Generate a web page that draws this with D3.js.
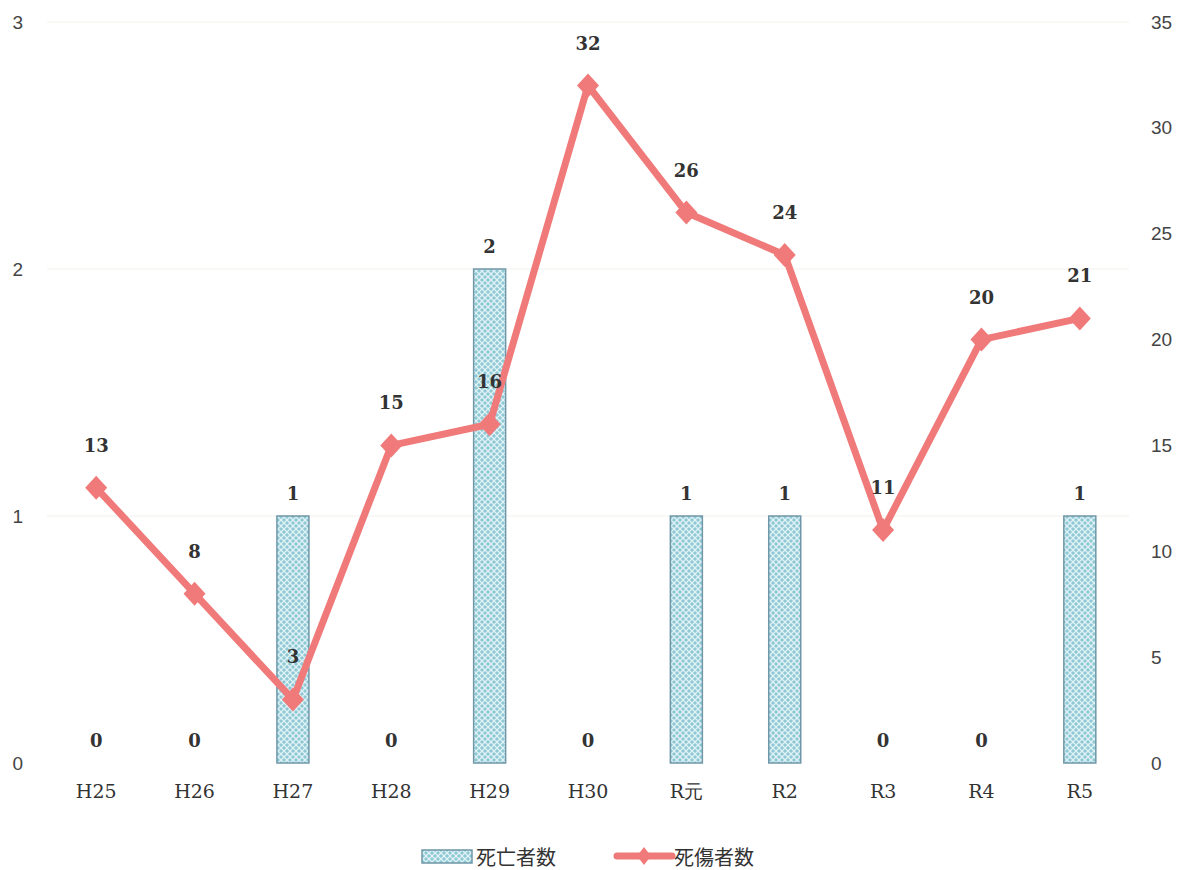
<!DOCTYPE html>
<html>
<head>
<meta charset="utf-8">
<script src="https://cdn.jsdelivr.net/npm/d3@7"></script>
<style>
  body { margin: 0; background: #fff; }
  .tick text { font-family: "Liberation Sans", Arial, sans-serif; font-size: 19px; fill: #444; }
  .axis--x .tick text { font-family: "DejaVu Serif", "Liberation Serif", serif; font-size: 19px; fill: #333; }
  .label { font-family: "DejaVu Serif", "Liberation Serif", serif; font-size: 18px; font-weight: bold; fill: #333; text-anchor: middle; }
  .legend text { font-family: "Noto Sans CJK JP", sans-serif; font-size: 20px; fill: #333; }
</style>
</head>
<body>
<svg id="chart" width="1186" height="870"></svg>
<script>
var categories = ["H25", "H26", "H27", "H28", "H29", "H30", "R元", "R2", "R3", "R4", "R5"];
var deaths = [0, 0, 1, 0, 2, 0, 1, 1, 0, 0, 1];        // 死亡者数 (left axis)
var casualties = [13, 8, 3, 15, 16, 32, 26, 24, 11, 20, 21]; // 死傷者数 (right axis)
var leftTicks = [0, 1, 2, 3];
var rightTicks = [0, 5, 10, 15, 20, 25, 30, 35];

var svg = d3.select("#chart")
    , margin = {top: 22, right: 57, bottom: 107, left: 47}
    , width = +svg.attr("width") - margin.left - margin.right
    , height = +svg.attr("height") - margin.top - margin.bottom
    , g = svg.append("g").attr("transform", "translate(" + margin.left + "," + margin.top + ")")
    ;

// crosshatch fill for the bars
var defs = svg.append("defs");
var pat = defs.append("pattern")
    .attr("id", "hatch")
    .attr("patternUnits", "userSpaceOnUse")
    .attr("width", 6)
    .attr("height", 6);
pat.append("rect").attr("width", 6).attr("height", 6).attr("fill", "#8fc8d5");
pat.append("path")
    .attr("d", "M0,0L6,6M6,0L0,6")
    .attr("stroke", "#dff2f5")
    .attr("stroke-width", 1.3);

var x = d3.scaleBand().domain(categories).range([0, width]).paddingInner(0).paddingOuter(0);
var yL = d3.scaleLinear().domain([0, 3]).range([height, 0]);
var yR = d3.scaleLinear().domain([0, 35]).range([height, 0]);
var cx = function(i) { return x(categories[i]) + x.bandwidth() / 2; };

// faint gridlines
g.append("g")
    .selectAll("line")
    .data(leftTicks.slice(1))
    .join("line")
    .attr("x1", 0).attr("x2", width)
    .attr("y1", function(d) { return yL(d); }).attr("y2", function(d) { return yL(d); })
    .attr("stroke", "#f1f1ec").attr("stroke-width", 1);

// axes
g.append("g")
    .attr("class", "axis axis--y")
    .call(d3.axisLeft(yL).tickValues(leftTicks).tickSize(0).tickPadding(24).tickFormat(d3.format("d")))
    .call(function(s) { s.select(".domain").remove(); });

g.append("g")
    .attr("class", "axis axis--y2")
    .attr("transform", "translate(" + width + ",0)")
    .call(d3.axisRight(yR).tickValues(rightTicks).tickSize(0).tickPadding(22).tickFormat(d3.format("d")))
    .call(function(s) { s.select(".domain").remove(); });

g.append("g")
    .attr("class", "axis axis--x")
    .attr("transform", "translate(0," + height + ")")
    .call(d3.axisBottom(x).tickSize(0).tickPadding(22))
    .call(function(s) { s.select(".domain").remove(); });

// bars
var barW = 32;
g.append("g")
    .selectAll("rect")
    .data(deaths)
    .join("rect")
    .attr("x", function(d, i) { return cx(i) - barW / 2; })
    .attr("y", function(d) { return yL(d); })
    .attr("width", barW)
    .attr("height", function(d) { return height - yL(d); })
    .attr("fill", "url(#hatch)")
    .attr("stroke", "#7097a8")
    .attr("stroke-width", 1.5)
    .style("display", function(d) { return d ? null : "none"; });

// line
var line = d3.line()
    .x(function(d, i) { return cx(i); })
    .y(function(d) { return yR(d); });

g.append("path")
    .attr("d", line(casualties))
    .attr("fill", "none")
    .attr("stroke", "#f07a7a")
    .attr("stroke-width", 7)
    .attr("stroke-linejoin", "round");

g.append("g")
    .selectAll("path")
    .data(casualties)
    .join("path")
    .attr("transform", function(d, i) { return "translate(" + cx(i) + "," + yR(d) + ")"; })
    .attr("d", "M0,-12L11,0L0,12L-11,0Z")
    .attr("fill", "#f07a7a");

// labels
g.append("g")
    .selectAll("text")
    .data(deaths)
    .join("text")
    .attr("class", "label")
    .attr("x", function(d, i) { return cx(i); })
    .attr("y", function(d) { return yL(d) - 16; })
    .text(function(d) { return d; });

g.append("g")
    .selectAll("text")
    .data(casualties)
    .join("text")
    .attr("class", "label")
    .attr("x", function(d, i) { return cx(i); })
    .attr("y", function(d) { return yR(d) - 36; })
    .text(function(d) { return d; });

// legend
var lg = svg.append("g").attr("class", "legend").attr("transform", "translate(0,856)");
lg.append("rect")
    .attr("x", 422).attr("y", -6).attr("width", 50).attr("height", 13)
    .attr("fill", "url(#hatch)").attr("stroke", "#7097a8").attr("stroke-width", 1.5);
lg.append("text").attr("x", 476).attr("y", 0).attr("dominant-baseline", "central").text("死亡者数");
lg.append("line")
    .attr("x1", 617).attr("x2", 672).attr("y1", 0).attr("y2", 0)
    .attr("stroke", "#f07a7a").attr("stroke-width", 7).attr("stroke-linecap", "round");
lg.append("path").attr("transform", "translate(644,0)").attr("d", "M0,-9L7,0L0,9L-7,0Z").attr("fill", "#f07a7a");
lg.append("text").attr("x", 674).attr("y", 0).attr("dominant-baseline", "central").text("死傷者数");
</script>
</body>
</html>
